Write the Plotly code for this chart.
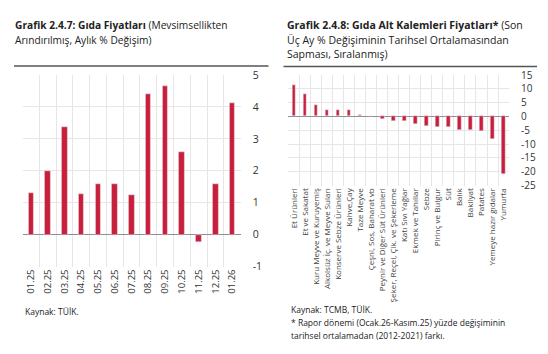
import plotly.graph_objects as go

W, H = 548, 354

# Left chart data
months = ["01.25", "02.25", "03.25", "04.25", "05.25", "06.25", "07.25",
          "08.25", "09.25", "10.25", "11.25", "12.25", "01.26"]
food_change = [1.3, 2.0, 3.37, 1.27, 1.57, 1.57, 1.23, 4.4, 4.67, 2.58, -0.22, 1.58, 4.13]
left_ticks = [-1, 0, 1, 2, 3, 4, 5]

# Right chart data
items = ["Et Ürünleri", "Et ve Sakatat", "Kuru Meyve ve Kuruyemiş",
         "Alkolsüz İç. ve Meyve Suları", "Konserve Sebze Ürünleri", "Kahve,Çay",
         "Taze Meyve", "Çeşni, Sos, Baharat vb", "Peynir ve Diğer Süt Ürünleri",
         "Şeker, Reçel, Çik. ve Şekerleme", "Katı Sıvı Yağlar", "Ekmek ve Tahıllar",
         "Sebze", "Pirinç ve Bulgur", "Süt", "Balık", "Bakliyat", "Patates",
         "Yemeye hazır gıdalar", "Yumurta"]
item_dev = [11.5, 8.1, 4.0, 2.5, 2.3, 2.3, 0.45, 0.3, -0.9, -1.7, -1.7, -2.65,
            -3.5, -3.7, -3.8, -4.8, -4.8, -5.4, -8.2, -20.7]
right_ticks = [-25, -20, -15, -10, -5, 0, 5, 10, 15]

BAR = "#C8203C"
GRID = "#e6e6e6"
ZERO = "#8f8f8f"
TXT = "#333333"
FONT = "Open Sans"

def px(x):
    return x / W

def py(y):
    return 1 - y / H

fig = go.Figure()
fig.add_trace(go.Bar(x=months, y=food_change, marker_color=BAR, width=0.33,
                     xaxis="x", yaxis="y", showlegend=False))
fig.add_trace(go.Bar(x=items, y=item_dev, marker_color=BAR, width=0.32,
                     xaxis="x2", yaxis="y2", showlegend=False))

common_x = dict(type="category", tickson="boundaries", showgrid=True, gridcolor=GRID,
                gridwidth=1, ticks="", tickangle=-90, showline=False, zeroline=False,
                fixedrange=True)
common_y = dict(side="right", showgrid=True, gridcolor=GRID, gridwidth=1,
                zeroline=True, zerolinecolor=ZERO, zerolinewidth=1, showline=False,
                ticks="outside", tickcolor="rgba(0,0,0,0)")

fig.update_layout(
    width=W, height=H, autosize=False,
    margin=dict(l=0, r=0, t=0, b=0),
    paper_bgcolor="white", plot_bgcolor="white",
    font=dict(family=FONT, color=TXT),
    bargap=0,
    xaxis=dict(**common_x, domain=[px(21.7), px(240)], anchor="y",
               range=[-0.5, len(months) - 0.5],
               tickfont=dict(size=9.5, color=TXT)),
    yaxis=dict(**common_y, domain=[py(270), py(70)], anchor="x",
               range=[-1, 5], tickvals=left_ticks,
               ticktext=[str(v) for v in left_ticks], ticklen=9,
               tickfont=dict(size=10.5, color=TXT)),
    xaxis2=dict(**common_x, domain=[px(288), px(509)], anchor="y2",
                range=[-0.5, len(items) - 0.5],
                tickfont=dict(size=8, color="#444444")),
    yaxis2=dict(**common_y, domain=[py(185.5), py(70)], anchor="x2",
                range=[-25, 15], tickvals=right_ticks,
                ticktext=[str(v) for v in right_ticks], ticklen=9,
                tickfont=dict(size=10, color=TXT)),
)

# Rules below titles
fig.add_shape(type="line", xref="paper", yref="paper", x0=px(13), x1=px(268),
              y0=py(60.5), y1=py(60.5), line=dict(color="#555555", width=1.5))
fig.add_shape(type="line", xref="paper", yref="paper", x0=px(283), x1=px(537),
              y0=py(61), y1=py(61), line=dict(color="#555555", width=1.5))

def note(text, x, y, size):
    fig.add_annotation(text=text, xref="paper", yref="paper", x=px(x), y=py(y),
                       xanchor="left", yanchor="middle", showarrow=False,
                       font=dict(family=FONT, size=size, color="#222222"))

note("<b>Grafik 2.4.7: Gıda Fiyatları</b> (Mevsimsellikten", 12, 18, 10.2)
note("Arındırılmış, Aylık % Değişim)", 12, 33, 10.2)
note("<b>Grafik 2.4.8: Gıda Alt Kalemleri Fiyatları*</b> (Son", 285, 18, 10.5)
note("Üç Ay % Değişiminin Tarihsel Ortalamasından", 285, 33, 10.5)
note("Sapması, Sıralanmış)", 285, 48.5, 10.5)

note("Kaynak: TÜİK.", 22, 317, 8.5)
note("Kaynak: TCMB, TÜİK.", 289, 315, 8.5)
note("* Rapor dönemi (Ocak.26-Kasım.25) yüzde değişiminin", 289, 328, 8.5)
note("tarihsel ortalamadan (2012-2021) farkı.", 289, 342, 8.5)

fig.write_html("out.html")
